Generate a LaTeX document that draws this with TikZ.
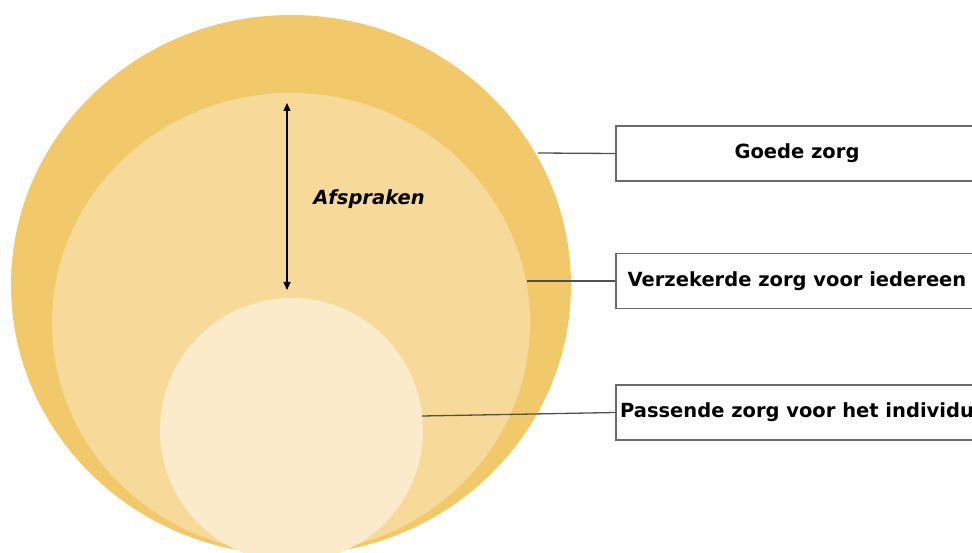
\documentclass[tikz,border=0pt]{standalone}
\usepackage{fontspec}
\setmainfont{DejaVu Sans}
\usepackage{tikz}
\usetikzlibrary{positioning, arrows.meta, shapes.geometric}

\definecolor{ringouter}{HTML}{F2C96A}
\definecolor{ringmiddle}{HTML}{F7DA99}
\definecolor{ringinner}{HTML}{FBEBCA}
\definecolor{leadgray}{HTML}{505050}
\definecolor{boxgray}{HTML}{6A6A6A}

\begin{document}
\begin{tikzpicture}[x=1pt, y=-1pt,
    ring/.style={ellipse, inner sep=0pt, draw=none},
    labelbox/.style={draw=boxgray, line width=1.2pt, fill=white, inner sep=0pt,
        minimum width=362pt, minimum height=55pt,
        font=\fontsize{19.5}{23}\selectfont\bfseries},
    lead/.style={draw=leadgray, line width=1.3pt}]
    \useasboundingbox (0,0) rectangle (972,553);
    \clip (0,0) rectangle (972,553);

    % Define nodes
    \node[ring, fill=ringouter, minimum width=560pt, minimum height=540pt] (goed) at (291,285) {};
    \node[ring, fill=ringmiddle, minimum width=478pt, minimum height=460pt] (verzekerd) at (291,323) {};
    \node[ring, fill=ringinner, minimum width=263pt, minimum height=264pt] (passend) at (291.5,430) {};

    \node[labelbox] (Bgoed) at (797,153.5) {Goede zorg};
    \node[labelbox] (Bverzekerd) at (797,281) {Verzekerde zorg voor iedereen};
    \node[labelbox] (Bpassend) at (797,412.5) {Passende zorg voor het individu};

    \coordinate (Cgoed) at (538,153);
    \coordinate (Cverzekerd) at (527,281);
    \coordinate (Cpassend) at (422,416);
    \coordinate (Atop) at (287,103);
    \coordinate (Abot) at (287,290);

    % Draw arrows
    \draw[lead] (Cgoed) -- (Bgoed.west);
    \draw[lead] (Cverzekerd) -- (Bverzekerd.west);
    \draw[lead] (Cpassend) -- (Bpassend.west);
    \draw[line width=1.3pt, {Triangle[length=8pt,width=7pt]}-{Triangle[length=8pt,width=7pt]}] (Atop) -- (Abot);
    \node[font=\fontsize{19.5}{23}\selectfont\bfseries\itshape] (afspraken) at (369,199) {Afspraken};
\end{tikzpicture}
\end{document}
